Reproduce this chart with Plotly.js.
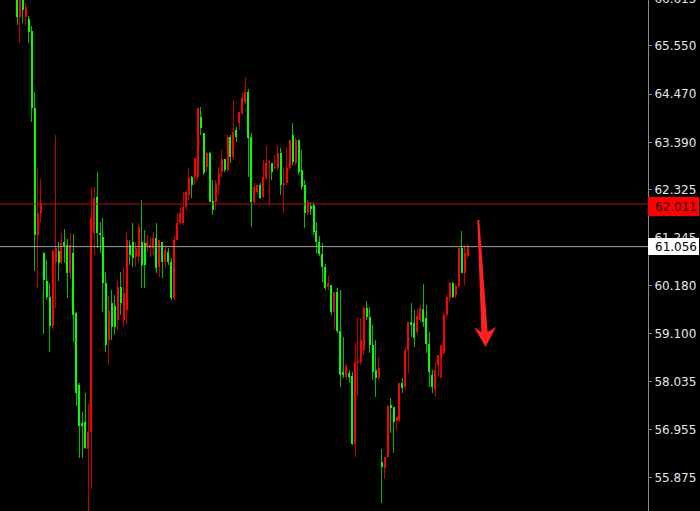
<!DOCTYPE html>
<html>
<head>
<meta charset="utf-8">
<script src="https://cdn.plot.ly/plotly-3.0.1.min.js"></script>
<style>
html,body{margin:0;padding:0;background:#000;width:700px;height:511px;overflow:hidden;}
#chart{position:absolute;left:0;top:-10px;width:700px;height:521px;}
</style>
</head>
<body>
<div id="chart"></div>
<script>
var openP = [66.80,66.20,66.69,66.20,66.15,65.89,64.16,61.32,61.81,60.91,
60.29,59.93,59.28,60.71,60.96,60.71,61.16,61.09,60.46,60.91,
59.57,57.96,57.10,57.13,56.52,56.90,61.36,62.17,61.36,61.27,
60.24,58.96,59.79,59.73,59.41,60.15,59.41,59.64,61.09,61.16,
60.82,60.82,61.16,61.14,61.05,61.02,61.02,61.25,60.60,61.16,
60.71,60.94,60.71,59.90,61.20,61.58,61.58,61.94,62.21,62.62,
62.62,62.62,63.96,63.60,62.84,63.15,62.08,62.06,62.44,62.73,
63.02,62.77,63.51,63.06,63.67,63.82,64.05,64.30,64.52,63.51,
62.06,62.28,62.44,62.17,62.59,62.93,62.93,62.82,62.82,63.15,
62.44,62.48,62.82,63.56,62.93,63.44,62.77,62.44,61.81,61.97,
61.99,61.41,61.16,60.89,60.60,60.15,60.20,59.59,60.04,59.17,
58.25,58.13,58.22,58.16,56.63,58.45,58.47,58.74,59.68,59.48,
58.85,58.29,58.11,56.23,56.10,56.34,57.51,57.46,57.15,57.17,
58.00,57.91,58.74,59.37,59.34,59.14,59.41,59.66,59.46,58.87,
58.18,57.84,58.40,58.58,58.67,59.52,59.90,60.24,59.97,60.17,
61.02,60.46,60.85];

var highP = [67.03,66.92,66.80,66.51,66.22,66.00,64.52,62.82,62.57,60.94,
60.76,60.24,60.98,63.56,61.16,61.36,61.45,61.23,61.36,61.34,
59.59,58.00,57.35,57.78,57.53,62.39,62.39,62.73,61.61,61.70,
60.49,59.95,60.08,59.97,60.31,60.49,60.60,61.38,61.20,61.58,
61.16,61.58,62.10,61.43,61.32,61.25,61.38,61.58,61.20,61.16,
61.09,61.02,60.80,61.29,61.81,61.94,62.28,62.32,62.82,62.64,
63.04,64.16,64.18,63.60,63.18,63.18,62.55,62.55,62.84,63.22,
63.02,63.56,63.56,64.34,63.74,64.07,64.50,64.86,64.59,63.60,
62.48,62.44,62.48,63.00,63.31,63.00,62.93,63.11,63.31,63.26,
62.84,63.29,63.44,63.82,63.51,63.44,63.22,62.55,62.10,62.06,
62.06,61.61,61.29,61.14,60.67,60.40,60.20,60.04,60.13,60.08,
59.03,58.45,58.29,58.25,58.90,59.46,59.46,59.73,59.84,59.70,
59.30,58.96,58.58,56.52,56.34,57.51,57.66,57.46,57.24,58.00,
58.11,58.81,59.37,59.79,59.64,59.66,59.75,60.22,59.75,59.14,
58.29,58.47,58.63,58.85,59.57,59.97,60.26,60.26,60.22,61.02,
61.41,61.09,61.11];

var lowP = [66.02,65.62,66.06,66.02,65.62,63.85,60.51,60.13,61.58,59.10,
59.86,58.70,59.23,59.68,60.29,60.67,60.69,59.90,60.33,58.92,
57.49,56.32,56.32,56.52,55.13,55.63,60.87,61.02,60.91,59.59,
58.70,58.40,58.96,59.08,59.19,59.52,59.26,59.30,60.64,60.60,
60.60,60.69,60.13,60.13,60.94,60.82,60.87,60.46,60.38,60.35,
60.58,60.64,59.86,59.86,61.20,61.54,61.54,61.88,62.10,62.14,
62.44,62.55,63.56,62.66,62.73,62.06,61.76,61.88,62.21,62.59,
62.73,62.73,62.93,63.00,63.40,63.67,64.00,64.25,62.62,61.50,
62.01,62.23,62.12,62.14,62.55,61.99,62.55,62.77,62.77,62.21,
61.81,62.44,62.77,62.88,62.88,62.66,62.32,61.47,61.76,61.76,
61.32,60.91,60.85,60.26,60.08,60.08,59.52,59.19,59.12,57.91,
58.11,58.07,58.00,56.61,56.34,57.71,58.40,58.63,59.41,58.67,
58.07,57.69,58.07,55.31,55.85,56.32,56.88,56.43,56.95,57.13,
57.78,57.84,58.22,59.03,58.81,59.08,59.37,59.26,58.67,57.91,
57.78,57.69,58.13,58.11,58.63,59.46,59.82,59.90,59.90,60.13,
60.46,60.20,60.80];

var closeP = [66.20,66.69,66.36,66.42,65.86,64.16,61.32,61.81,62.03,60.31,
59.93,59.28,60.96,61.02,60.69,61.14,61.07,60.46,61.09,59.52,
57.78,57.04,57.04,56.54,56.90,61.70,62.14,61.36,61.32,60.24,
58.85,59.61,59.26,59.26,60.15,59.79,60.02,61.20,60.87,60.80,
61.02,61.50,60.64,60.64,61.16,61.09,61.25,60.58,61.20,60.71,
60.98,60.71,59.90,61.20,61.58,61.81,61.94,62.28,62.59,62.44,
63.04,64.16,63.71,62.71,63.15,62.06,61.88,62.48,62.71,63.02,
62.77,63.51,63.06,63.62,63.51,64.07,64.39,64.52,63.49,62.06,
62.39,62.44,62.14,62.62,62.93,62.95,62.73,62.84,63.15,62.44,
62.48,62.82,63.44,62.95,63.44,62.73,62.39,61.81,62.06,61.90,
61.38,61.16,60.89,60.60,60.13,60.24,59.59,60.04,59.17,58.18,
58.18,58.38,58.13,56.63,58.47,58.49,58.96,59.68,59.48,58.85,
58.25,58.11,58.34,56.12,56.34,57.49,57.44,57.13,57.24,58.00,
57.89,58.74,59.37,59.30,59.01,59.50,59.68,59.37,58.87,58.25,
57.91,58.29,58.63,58.81,59.52,59.93,60.24,59.93,60.17,61.02,
60.46,60.91,61.06];

var tickValues = [66.615,65.550,64.470,63.390,62.325,61.245,60.180,59.100,58.035,56.955,55.875];
var askPrice = 62.011;
var bidPrice = 61.056;

var upBody = '#ff0000', downBody = '#00ff00';
var upWick = '#c80000', downWick = '#00c000';

var idx = openP.map(function(_, i){ return i; });
var isUp = openP.map(function(o, i){ return closeP[i] >= o; });

var bodyBase = openP.map(function(o, i){ return Math.min(o, closeP[i]); });
var bodyLen = openP.map(function(o, i){ return Math.max(Math.abs(closeP[i] - o), 0.02); });
var bodyCol = isUp.map(function(u){ return u ? upBody : downBody; });
var wickLen = highP.map(function(h, i){ return h - lowP[i]; });
var wickCol = isUp.map(function(u){ return u ? upWick : downWick; });

var pxPerBar = 2.965;
var firstPx = 17;
var plotW = 648;

var wicks = {
  type:'bar', x: idx, y: wickLen, base: lowP, width: 1/pxPerBar,
  marker:{color: wickCol, line:{width:0.02, color: wickCol}},
  hoverinfo:'skip'
};
var bodies = {
  type:'bar', x: idx, y: bodyLen, base: bodyBase, width: 2/pxPerBar,
  marker:{color: bodyCol, line:{width:0.02, color: bodyCol}},
  hoverinfo:'skip'
};

var fnt = 'DejaVu Sans, Verdana, sans-serif';

/* arrow drawing (decoration, paper coordinates) */
function P(px, py){ return (px/648).toFixed(5) + ',' + ((511 - py)/521).toFixed(5); }
var arrowPath = 'M' + P(477.3,220) + ' L' + P(479.3,220) + ' L' + P(487.6,332) +
  ' L' + P(496,327) + ' L' + P(485.5,347) + ' L' + P(474,327) + ' L' + P(481.4,332) + ' Z';

var layout = {
  width:700, height:521,
  margin:{l:0, r:52, t:0, b:0, pad:0},
  paper_bgcolor:'#000000', plot_bgcolor:'#000000',
  showlegend:false, barmode:'overlay', bargap:0, bargroupgap:0,
  hovermode:false,
  xaxis:{range:[-firstPx/pxPerBar, (plotW-firstPx)/pxPerBar], visible:false, fixedrange:true},
  yaxis:{range:[55.135, 66.804], side:'right', showgrid:false, zeroline:false,
    showline:true, linecolor:'#8c8c8c', linewidth:1,
    ticks:'outside', ticklen:3, tickcolor:'#8c8c8c',
    tickvals: tickValues, tickformat:'.3f',
    tickfont:{family:fnt, size:12, color:'#e6e6e6'},
    fixedrange:true},
  shapes:[
    {type:'line', xref:'paper', x0:0, x1:1, yref:'y', y0:askPrice, y1:askPrice,
     line:{color:'#b81010', width:1}, layer:'above'},
    {type:'line', xref:'paper', x0:0, x1:1, yref:'y', y0:bidPrice, y1:bidPrice,
     line:{color:'#98a4b2', width:1}, layer:'above'},
    {type:'path', xref:'paper', yref:'paper', path: arrowPath,
     fillcolor:'#ff2020', line:{width:0}, layer:'above'}
  ],
  annotations:[
    {xref:'paper', x:1, xanchor:'left', yref:'y', y:askPrice, yanchor:'middle', yshift:-2,
     text: askPrice.toFixed(3), showarrow:false, bgcolor:'#ff0000',
     font:{family:fnt, size:12, color:'#1a0000'},
     width:47, height:15, borderpad:2, borderwidth:0, align:'right'},
    {xref:'paper', x:1, xanchor:'left', yref:'y', y:bidPrice, yanchor:'middle',
     text: bidPrice.toFixed(3), showarrow:false, bgcolor:'#ffffff',
     font:{family:fnt, size:12, color:'#000000'},
     width:47, height:13, borderpad:2, borderwidth:0, align:'right'}
  ]
};

Plotly.newPlot('chart', [wicks, bodies], layout, {displayModeBar:false, responsive:false});
</script>
</body>
</html>
